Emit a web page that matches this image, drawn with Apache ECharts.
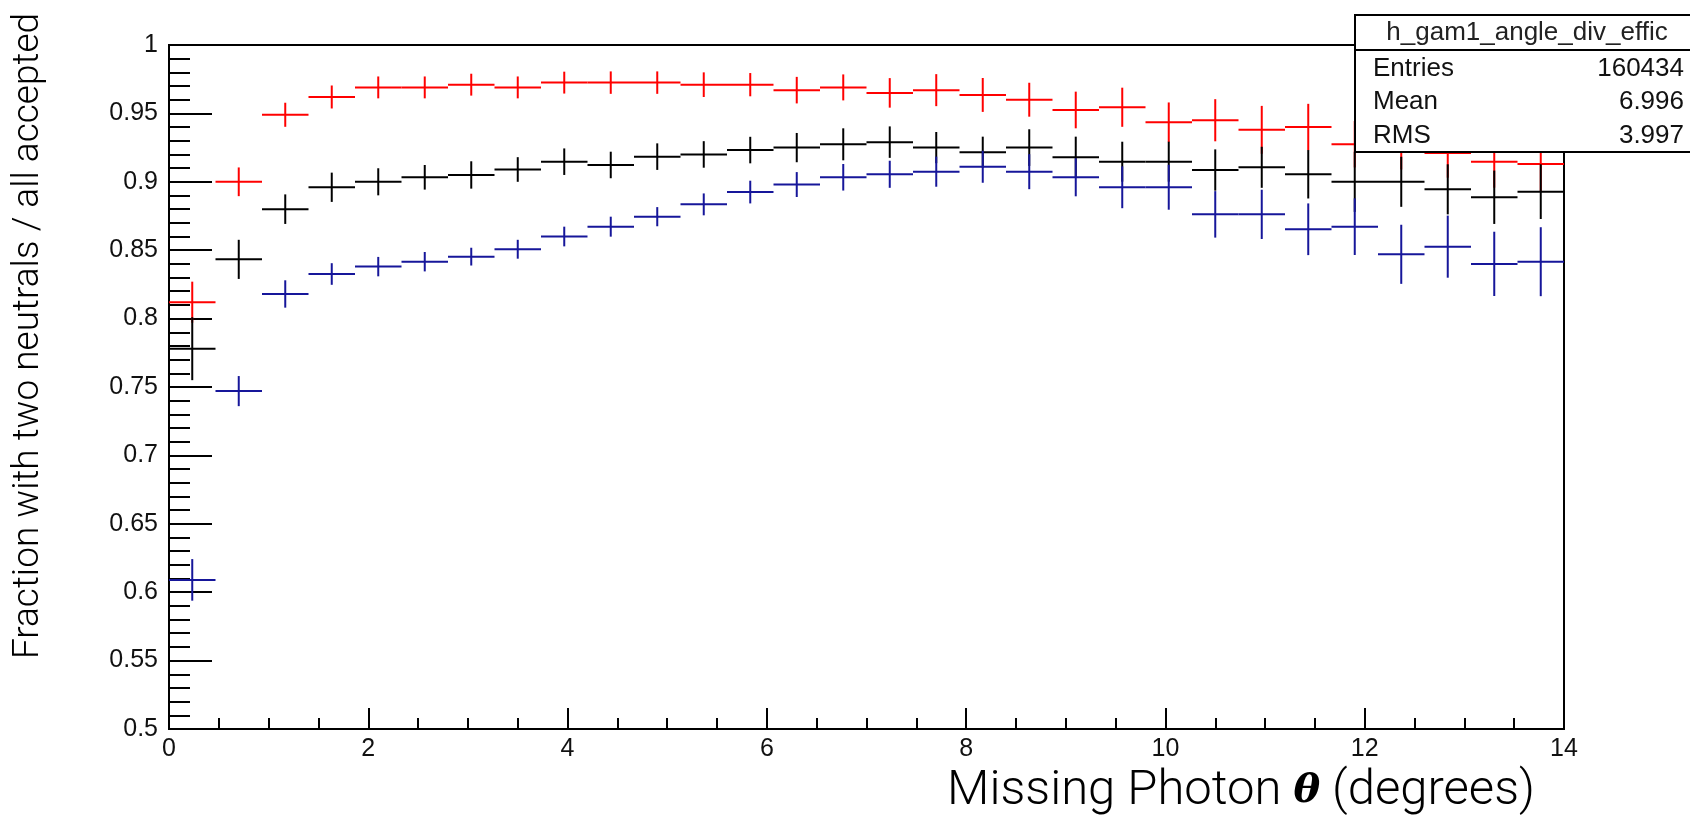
<!DOCTYPE html>
<html>
<head>
<meta charset="utf-8">
<script src="https://cdn.jsdelivr.net/npm/echarts@6/dist/echarts.min.js"></script>
<style>
  html, body { margin: 0; padding: 0; background: #fff; }
  #chart { width: 1690px; height: 816px; }
</style>
</head>
<body>
<div id="chart"></div>
<script>
// ---- binning (x axis) ----
const xMin = 0;
const xMax = 14;
const nBins = 30;
const xTicks = [0, 2, 4, 6, 8, 10, 12, 14];
const yTicks = [0.5, 0.55, 0.6, 0.65, 0.7, 0.75, 0.8, 0.85, 0.9, 0.95, 1];

// ---- series values ----
const redVals = [0.812, 0.900, 0.949, 0.962, 0.969, 0.969, 0.971, 0.969, 0.9725, 0.9725,
                 0.9725, 0.971, 0.971, 0.967, 0.969, 0.965, 0.967, 0.9635, 0.960, 0.9525,
                 0.9545, 0.9435, 0.945, 0.938, 0.940, 0.9275, 0.926, 0.921, 0.9147, 0.913];
const redErrs = [0.015, 0.0105, 0.0088, 0.0084, 0.008, 0.008, 0.008, 0.008, 0.008, 0.0082,
                 0.0082, 0.009, 0.0085, 0.0097, 0.0095, 0.0108, 0.0117, 0.0124, 0.0124, 0.0134,
                 0.0143, 0.0145, 0.0154, 0.0175, 0.017, 0.017, 0.017, 0.018, 0.019, 0.020];

const blackVals = [0.778, 0.8433, 0.880, 0.896, 0.900, 0.9033, 0.905, 0.909, 0.9147, 0.9123,
                   0.9184, 0.920, 0.9232, 0.925, 0.9274, 0.929, 0.925, 0.9216, 0.925, 0.918,
                   0.9147, 0.9147, 0.9086, 0.9106, 0.9055, 0.900, 0.900, 0.8945, 0.8887, 0.8928];
const blackErrs = [0.023, 0.0143, 0.0108, 0.0107, 0.0099, 0.009, 0.010, 0.009, 0.0097, 0.0097,
                   0.0097, 0.0097, 0.0097, 0.0107, 0.0117, 0.0115, 0.0114, 0.0114, 0.0134, 0.015,
                   0.0146, 0.0146, 0.0151, 0.015, 0.0177, 0.022, 0.0183, 0.0183, 0.0195, 0.020];

const blueVals = [0.609, 0.747, 0.818, 0.8326, 0.838, 0.8416, 0.8453, 0.8507, 0.860, 0.8672,
                  0.8745, 0.8835, 0.8925, 0.898, 0.9033, 0.9055, 0.9074, 0.911, 0.9074, 0.9033,
                  0.896, 0.896, 0.8762, 0.8762, 0.8653, 0.8672, 0.847, 0.8526, 0.840, 0.8416];
const blueErrs = [0.0152, 0.011, 0.010, 0.0079, 0.0071, 0.0071, 0.0065, 0.0069, 0.0072, 0.0073,
                  0.0070, 0.008, 0.0083, 0.0091, 0.0097, 0.0099, 0.011, 0.0117, 0.0128, 0.0139,
                  0.0153, 0.0164, 0.017, 0.018, 0.0189, 0.0207, 0.0216, 0.0227, 0.0235, 0.0252];

// ---- texts ----
const yTitle = 'Fraction with two neutrals / all accepted';
const xTitleParts = ['Missing Photon ', 'θ', ' (degrees)'];
const statTitle = 'h_gam1_angle_div_effic';
const statLabels = ['Entries', 'Mean', 'RMS'];
const statValues = ['160434', '6.996', '3.997'];

const binW = (xMax - xMin) / nBins;

function histSeries(name, vals, errs, color, z) {
  return {
    type: 'custom',
    name: name,
    z: z,
    clip: false,
    encode: { x: 0, y: 1 },
    data: vals.map(function (v, i) { return [xMin + (i + 0.5) * binW, v, errs[i]]; }),
    renderItem: function (params, api) {
      const c = api.value(0), v = api.value(1), e = api.value(2);
      const pl = api.coord([c - binW / 2, v]);
      const pr = api.coord([c + binW / 2, v]);
      const pt = api.coord([c, v + e]);
      const pb = api.coord([c, v - e]);
      return {
        type: 'group',
        children: [
          { type: 'line', shape: { x1: pl[0], y1: pl[1], x2: pr[0], y2: pr[1] },
            style: { stroke: color, lineWidth: 2 } },
          { type: 'line', shape: { x1: pt[0], y1: pt[1], x2: pb[0], y2: pb[1] },
            style: { stroke: color, lineWidth: 2 } }
        ]
      };
    }
  };
}

const chart = echarts.init(document.getElementById('chart'), null, { renderer: 'canvas' });

const labelFont = 'Liberation Sans';
const titleFont = 'Roboto';

const statX = 1355, statY = 15, statW = 345, statH = 137, statSep = 35;

const option = {
  backgroundColor: '#ffffff',
  animation: false,
  grid: {
    left: 169, right: 126, top: 45, bottom: 87,
    show: true, borderColor: '#000', borderWidth: 2, backgroundColor: 'transparent'
  },
  xAxis: {
    type: 'value',
    min: xTicks[0], max: xTicks[xTicks.length - 1], interval: xTicks[1] - xTicks[0],
    axisLine: { show: true, onZero: false, lineStyle: { color: '#000', width: 2 } },
    axisTick: { show: true, inside: true, length: 21, lineStyle: { color: '#000', width: 2 } },
    minorTick: { show: true, splitNumber: 4, length: 11, lineStyle: { color: '#000', width: 2 } },
    splitLine: { show: false },
    axisLabel: { show: true, margin: 8, fontFamily: labelFont, fontSize: 25, color: '#111' }
  },
  yAxis: {
    type: 'value',
    min: yTicks[0], max: yTicks[yTicks.length - 1], interval: 0.05,
    axisLine: { show: true, onZero: false, lineStyle: { color: '#000', width: 2 } },
    axisTick: { show: true, inside: true, length: 43, lineStyle: { color: '#000', width: 2 } },
    minorTick: { show: true, splitNumber: 5, length: 21, lineStyle: { color: '#000', width: 2 } },
    splitLine: { show: false },
    axisLabel: { show: true, margin: 11, fontFamily: labelFont, fontSize: 25, color: '#111',
      formatter: function (v) { return String(Math.round(v * 100) / 100); } }
  },
  series: [
    histSeries('red', redVals, redErrs, '#ff0000', 2),
    histSeries('black', blackVals, blackErrs, '#000000', 3),
    histSeries('blue', blueVals, blueErrs, '#16169a', 4)
  ],
  graphic: [
    {
      type: 'text', z: 50,
      x: 29, y: 336, rotation: Math.PI / 2,
      style: { text: yTitle, fontFamily: titleFont, fontWeight: 300, fontSize: 37,
               fill: '#000', align: 'center', verticalAlign: 'middle' }
    },
    {
      type: 'text', z: 50,
      x: 1535, y: 792,
      style: {
        text: '{a|' + xTitleParts[0] + '}{b|' + xTitleParts[1] + '}{a|' + xTitleParts[2] + '}',
        align: 'right', verticalAlign: 'middle',
        rich: {
          a: { fontFamily: titleFont, fontWeight: 300, fontSize: 49, fill: '#000' },
          b: { fontFamily: 'DejaVu Serif', fontWeight: 'bold', fontStyle: 'italic', fontSize: 40, fill: '#000' }
        }
      }
    },
    {
      type: 'group', z: 100,
      children: [
        { type: 'rect', z: 100, shape: { x: statX, y: statY, width: statW, height: statH },
          style: { fill: '#fff', stroke: '#000', lineWidth: 2 } },
        { type: 'line', z: 101, shape: { x1: statX, y1: statY + statSep, x2: statX + statW, y2: statY + statSep },
          style: { stroke: '#000', lineWidth: 2 } },
        { type: 'text', z: 102, x: 1527, y: 33,
          style: { text: statTitle, fontFamily: labelFont, fontSize: 26, fill: '#222', align: 'center', verticalAlign: 'middle' } },
        { type: 'text', z: 102, x: 1373, y: 69,
          style: { text: statLabels[0], fontFamily: labelFont, fontSize: 26, fill: '#111', align: 'left', verticalAlign: 'middle' } },
        { type: 'text', z: 102, x: 1373, y: 102,
          style: { text: statLabels[1], fontFamily: labelFont, fontSize: 26, fill: '#111', align: 'left', verticalAlign: 'middle' } },
        { type: 'text', z: 102, x: 1373, y: 136,
          style: { text: statLabels[2], fontFamily: labelFont, fontSize: 26, fill: '#111', align: 'left', verticalAlign: 'middle' } },
        { type: 'text', z: 102, x: 1684, y: 69,
          style: { text: statValues[0], fontFamily: labelFont, fontSize: 26, fill: '#111', align: 'right', verticalAlign: 'middle' } },
        { type: 'text', z: 102, x: 1684, y: 102,
          style: { text: statValues[1], fontFamily: labelFont, fontSize: 26, fill: '#111', align: 'right', verticalAlign: 'middle' } },
        { type: 'text', z: 102, x: 1684, y: 136,
          style: { text: statValues[2], fontFamily: labelFont, fontSize: 26, fill: '#111', align: 'right', verticalAlign: 'middle' } }
      ]
    }
  ]
};

chart.setOption(option);
</script>
</body>
</html>
